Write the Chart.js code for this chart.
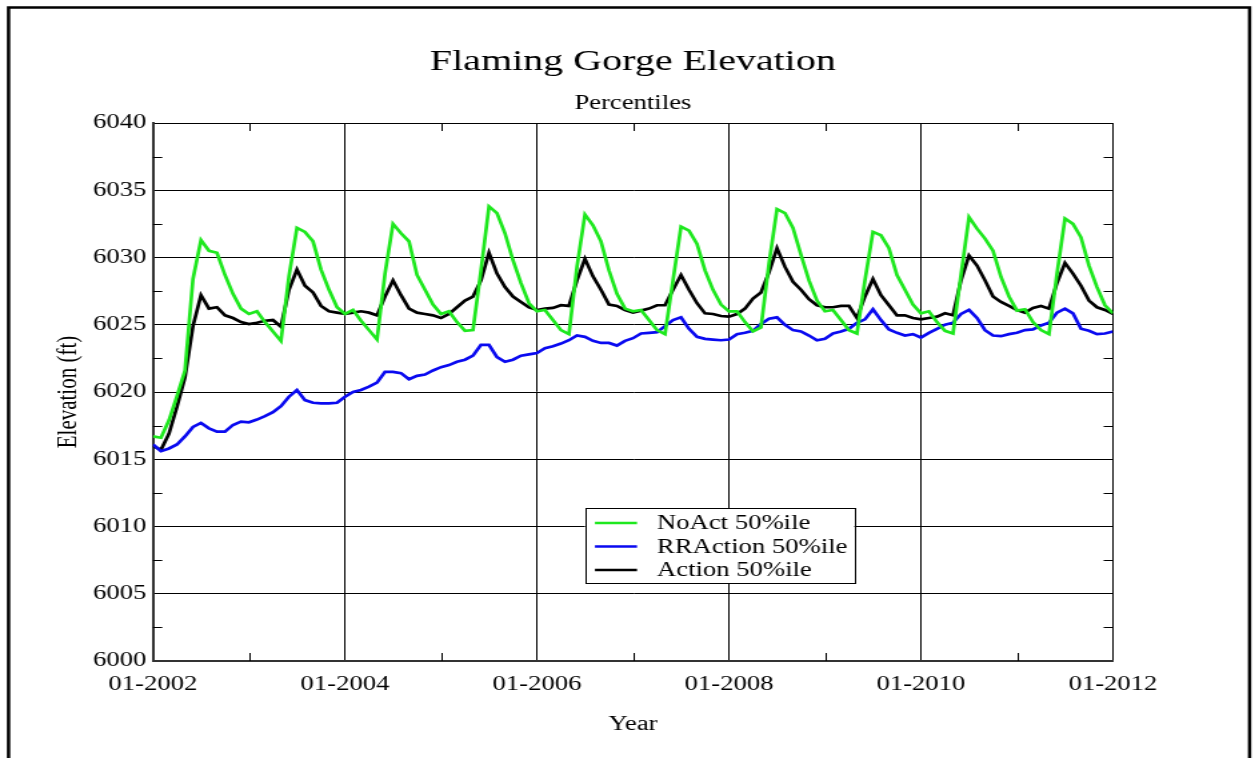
<!DOCTYPE html>
<html>
<head>
<meta charset="utf-8">
<script src="https://cdn.jsdelivr.net/npm/chart.js@4.4.1/dist/chart.umd.min.js"></script>
<style>
  html, body { margin: 0; padding: 0; background: #fff; overflow: hidden; }
  /* the original picture is stretched sideways, so the canvas is too */
  #wrap { width: 941px; height: 758px; transform: scale(1.33369, 1); transform-origin: 0 0; }
</style>
</head>
<body>
<div id="wrap"><canvas id="chart" width="941" height="758"></canvas></div>
<script>
// monthly values, Jan 2002 .. Jan 2012
const noAct = [
  6016.7, 6016.6, 6017.9, 6019.7, 6021.6, 6028.4, 6031.3, 6030.5, 6030.35, 6028.7, 6027.3, 6026.2,
  6025.8, 6026.0, 6025.2, 6024.5, 6023.8, 6028.6, 6032.2, 6031.9, 6031.2, 6029.1, 6027.6, 6026.3,
  6025.8, 6026.1, 6025.3, 6024.6, 6023.9, 6028.8, 6032.5, 6031.8, 6031.2, 6028.7, 6027.6, 6026.5,
  6025.8, 6026.0, 6025.2, 6024.55, 6024.6, 6029.05, 6033.8, 6033.3, 6031.8, 6029.8, 6028.1, 6026.6,
  6026.0, 6026.1, 6025.35, 6024.6, 6024.3, 6029.3, 6033.2, 6032.4, 6031.2, 6029.05, 6027.3, 6026.2,
  6026.0, 6026.1, 6025.35, 6024.6, 6024.3, 6028.3, 6032.3, 6032.0, 6031.0, 6029.05, 6027.6, 6026.5,
  6026.0, 6026.0, 6025.2, 6024.5, 6024.8, 6029.55, 6033.6, 6033.3, 6032.2, 6030.2, 6028.3, 6026.8,
  6026.0, 6026.1, 6025.35, 6024.6, 6024.35, 6028.3, 6031.9, 6031.65, 6030.7, 6028.7, 6027.6, 6026.5,
  6025.85, 6026.0, 6025.2, 6024.55, 6024.35, 6028.7, 6033.0, 6032.15, 6031.4, 6030.5, 6028.55, 6027.1,
  6026.05, 6026.15, 6025.2, 6024.6, 6024.3, 6028.8, 6032.9, 6032.5, 6031.5, 6029.4, 6027.8, 6026.45,
  6025.85
];
const rrAction = [
  6016.1, 6015.6, 6015.8, 6016.1, 6016.7, 6017.4, 6017.7, 6017.3, 6017.05, 6017.05, 6017.55, 6017.8,
  6017.75, 6017.95, 6018.2, 6018.5, 6018.95, 6019.65, 6020.15, 6019.4, 6019.2, 6019.15, 6019.15, 6019.2,
  6019.65, 6020.0, 6020.15, 6020.4, 6020.7, 6021.5, 6021.5, 6021.4, 6020.95, 6021.2, 6021.3, 6021.6,
  6021.85, 6022.0, 6022.25, 6022.4, 6022.7, 6023.5, 6023.5, 6022.6, 6022.25, 6022.4, 6022.7, 6022.8,
  6022.9, 6023.25, 6023.4, 6023.6, 6023.85, 6024.2, 6024.1, 6023.8, 6023.65, 6023.65, 6023.45, 6023.8,
  6024.0, 6024.35, 6024.4, 6024.45, 6024.9, 6025.35, 6025.55, 6024.7, 6024.1, 6023.95, 6023.9, 6023.85,
  6023.9, 6024.3, 6024.4, 6024.55, 6025.05, 6025.45, 6025.55, 6025.0, 6024.6, 6024.5, 6024.2, 6023.85,
  6023.95, 6024.35, 6024.5, 6024.7, 6025.15, 6025.4, 6026.15, 6025.35, 6024.65, 6024.4, 6024.2, 6024.3,
  6024.05, 6024.4, 6024.7, 6025.0, 6025.15, 6025.8, 6026.1, 6025.5, 6024.6, 6024.2, 6024.15, 6024.3,
  6024.4, 6024.6, 6024.65, 6024.95, 6025.15, 6025.9, 6026.2, 6025.85, 6024.7, 6024.55, 6024.3, 6024.35,
  6024.5
];
const action = [
  6016.0, 6015.7, 6016.9, 6018.9, 6021.1, 6024.9, 6027.2, 6026.2, 6026.3, 6025.7, 6025.5, 6025.2,
  6025.05, 6025.15, 6025.3, 6025.35, 6024.85, 6027.6, 6029.1, 6027.9, 6027.4, 6026.4, 6026.0, 6025.9,
  6025.8, 6025.9, 6026.0, 6025.9, 6025.7, 6027.1, 6028.3, 6027.2, 6026.2, 6025.9, 6025.8, 6025.7,
  6025.5, 6025.8, 6026.3, 6026.8, 6027.1, 6028.3, 6030.35, 6028.8, 6027.8, 6027.1, 6026.7, 6026.3,
  6026.1, 6026.2, 6026.25, 6026.45, 6026.4, 6028.3, 6029.9, 6028.6, 6027.6, 6026.5, 6026.4, 6026.1,
  6025.9, 6026.05, 6026.2, 6026.45, 6026.45, 6027.6, 6028.7, 6027.6, 6026.6, 6025.85, 6025.8, 6025.65,
  6025.6, 6025.8, 6026.2, 6026.95, 6027.4, 6028.9, 6030.7, 6029.3, 6028.2, 6027.6, 6026.9, 6026.45,
  6026.3, 6026.3, 6026.4, 6026.4, 6025.5, 6027.1, 6028.4, 6027.2, 6026.45, 6025.7, 6025.7, 6025.5,
  6025.4, 6025.5, 6025.6, 6025.85, 6025.7, 6028.3, 6030.15, 6029.4, 6028.3, 6027.1, 6026.7, 6026.4,
  6026.1, 6025.9, 6026.25, 6026.4, 6026.2, 6028.1, 6029.6, 6028.8, 6027.9, 6026.8, 6026.3, 6026.1,
  6025.8
];
const seriesNames = ["NoAct 50%ile", "RRAction 50%ile", "Action 50%ile"];
const seriesColors = ["#1ee81e", "#0a0af0", "#000000"];
const xTickLabels = ["01-2002", "01-2004", "01-2006", "01-2008", "01-2010", "01-2012"];
const xMinorTicks = [12, 36, 60, 84, 108];
const yMinorTicks = [6002.5, 6007.5, 6012.5, 6017.5, 6022.5, 6027.5, 6032.5, 6037.5];

const serif = "'Liberation Serif', 'Times New Roman', serif";

function toPoints(arr) {
  return arr.map((v, i) => ({ x: i, y: v }));
}

// white page with a frame round it
const framePlugin = {
  id: "frame",
  beforeDraw(chart) {
    const ctx = chart.ctx;
    ctx.save();
    ctx.fillStyle = "#fff";
    ctx.fillRect(0, 0, chart.width, chart.height);
    ctx.strokeStyle = "#000";
    ctx.lineWidth = 2.5;
    ctx.strokeRect(6.4, 7.5, 930.5, 800);
    ctx.restore();
  }
};

// short inward ticks between the grid lines, on all four sides
const minorTicks = {
  id: "minorTicks",
  afterDraw(chart) {
    const ctx = chart.ctx;
    const ca = chart.chartArea;
    const xs = chart.scales.x, ys = chart.scales.y;
    ctx.save();
    ctx.strokeStyle = "#000";
    ctx.lineWidth = 1;
    ctx.beginPath();
    xMinorTicks.forEach(v => {
      const px = Math.round(xs.getPixelForValue(v)) + 0.5;
      ctx.moveTo(px, ca.bottom); ctx.lineTo(px, ca.bottom - 8);
      ctx.moveTo(px, ca.top); ctx.lineTo(px, ca.top + 8);
    });
    yMinorTicks.forEach(v => {
      const py = Math.round(ys.getPixelForValue(v)) + 0.5;
      ctx.moveTo(ca.left, py); ctx.lineTo(ca.left + 7, py);
      ctx.moveTo(ca.right, py); ctx.lineTo(ca.right - 7, py);
    });
    ctx.stroke();
    ctx.restore();
  }
};

// boxed legend sitting inside the plot
const boxLegend = {
  id: "boxLegend",
  afterDraw(chart) {
    const ctx = chart.ctx;
    const ca = chart.chartArea;
    const x0 = ca.left + (ca.right - ca.left) * 0.45;
    const y0 = ca.top + (ca.bottom - ca.top) * 0.7156;
    const w = 202, h = 75;
    ctx.save();
    ctx.fillStyle = "#fff";
    ctx.fillRect(x0, y0, w, h);
    ctx.strokeStyle = "#000";
    ctx.lineWidth = 1;
    ctx.strokeRect(Math.round(x0) + 0.5, Math.round(y0) + 0.5, w, h);
    ctx.font = "20px " + serif;
    ctx.textBaseline = "middle";
    chart.data.datasets.forEach((ds, i) => {
      const ry = y0 + 15 + i * 23.5;
      ctx.strokeStyle = ds.borderColor;
      ctx.lineWidth = 2.5;
      ctx.beginPath();
      ctx.moveTo(x0 + 7.5, ry);
      ctx.lineTo(x0 + 39, ry);
      ctx.stroke();
      ctx.fillStyle = "#000";
      ctx.fillText(ds.label, x0 + 54, ry + 1);
    });
    ctx.restore();
  }
};

new Chart(document.getElementById("chart"), {
  type: "line",
  data: {
    datasets: [
      { label: seriesNames[0], data: toPoints(noAct), borderColor: seriesColors[0] },
      { label: seriesNames[1], data: toPoints(rrAction), borderColor: seriesColors[1] },
      { label: seriesNames[2], data: toPoints(action), borderColor: seriesColors[2] }
    ]
  },
  options: {
    responsive: false,
    animation: false,
    devicePixelRatio: 1,
    layout: { padding: { left: 12, right: 4, top: 10, bottom: 10 } },
    elements: {
      point: { radius: 0 },
      line: { tension: 0, borderWidth: 2.7, fill: false }
    },
    plugins: {
      legend: { display: false },
      tooltip: { enabled: false },
      title: {
        display: true,
        text: "Flaming Gorge Elevation",
        color: "#000",
        font: { family: serif, size: 30, weight: "normal" },
        padding: { top: 34, bottom: 0 }
      },
      subtitle: {
        display: true,
        text: "Percentiles",
        color: "#000",
        font: { family: serif, size: 20, weight: "normal" },
        padding: { top: 12, bottom: 7 }
      }
    },
    scales: {
      x: {
        type: "linear",
        min: 0,
        max: 120,
        afterFit(scale) { scale.height = 87; },
        ticks: {
          stepSize: 24,
          autoSkip: false,
          maxRotation: 0,
          color: "#000",
          padding: 12,
          font: { family: serif, size: 20 },
          callback: v => (v % 24 === 0 ? xTickLabels[v / 24] : "")
        },
        grid: { color: "#000", lineWidth: 1, drawTicks: false },
        border: { color: "#333", width: 2 },
        title: {
          display: true,
          text: "Year",
          color: "#000",
          font: { family: serif, size: 20 },
          padding: { top: 0, bottom: 11 }
        }
      },
      y: {
        min: 6000,
        max: 6040,
        afterFit(scale) { scale.width = 102.7; },
        ticks: {
          stepSize: 5,
          color: "#000",
          padding: 5,
          font: { family: serif, size: 20 },
          callback: v => String(v)
        },
        grid: { color: "#000", lineWidth: 1, drawTicks: false },
        border: { color: "#333", width: 2 },
        title: {
          display: true,
          text: "Elevation (ft)",
          color: "#000",
          font: { family: serif, size: 21 },
          padding: { top: 27, bottom: 0 }
        }
      },
      // empty box on the right so the plot ends where the original does
      yRight: {
        position: "right",
        min: 6000,
        max: 6040,
        afterFit(scale) { scale.width = 102.5; },
        ticks: { display: false },
        grid: { display: false, drawTicks: false },
        border: { display: false }
      }
    }
  },
  plugins: [framePlugin, minorTicks, boxLegend]
});
</script>
</body>
</html>
